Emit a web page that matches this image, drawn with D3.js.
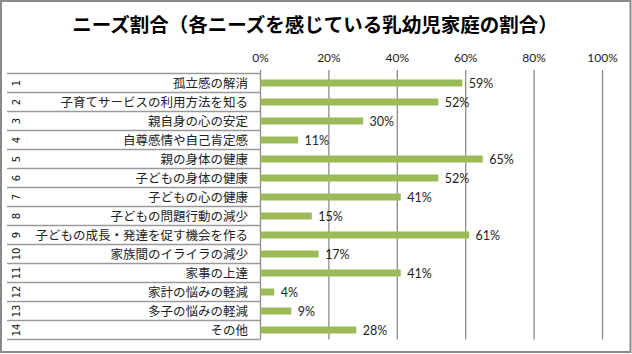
<!DOCTYPE html>
<html>
<head>
<meta charset="utf-8">
<script src="https://cdn.jsdelivr.net/npm/d3@7"></script>
<style>
body { margin: 0; background: #fff; }
</style>
</head>
<body>
<div id="viz"></div>
<script>
var title = 'ニーズ割合（各ニーズを感じている乳幼児家庭の割合）'
var nums = ['1','2','3','4','5','6','7','8','9','10','11','12','13','14']
var needs = ['孤立感の解消', '子育てサービスの利用方法を知る', '親自身の心の安定', '自尊感情や自己肯定感',
  '親の身体の健康', '子どもの身体の健康', '子どもの心の健康', '子どもの問題行動の減少',
  '子どもの成長・発達を促す機会を作る', '家族間のイライラの減少', '家事の上達', '家計の悩みの軽減',
  '多子の悩みの軽減', 'その他']
var shares = [0.59, 0.52, 0.30, 0.11, 0.65, 0.52, 0.41, 0.15, 0.61, 0.17, 0.41, 0.04, 0.09, 0.28]
var tickVals = [0, 0.2, 0.4, 0.6, 0.8, 1]

var w = 632, h = 354
var yTop = 73.5, yBot = 339.5

var svg = d3.select('#viz').append('svg')
  .attr('width', w)
  .attr('height', h)

// frame
svg.append('rect')
  .attr('x', 1).attr('y', 1)
  .attr('width', w - 2.5).attr('height', h - 3)
  .attr('fill', '#fff')
  .attr('stroke', '#8a8a8a')
  .attr('stroke-width', 2)

svg.append('text')
  .attr('x', 315).attr('y', 32)
  .attr('text-anchor', 'middle')
  .style('font-family', '"Noto Sans CJK JP"')
  .style('font-weight', 'bold')
  .style('font-size', '19.5px')
  .attr('fill', '#000')
  .text(title)

var x = d3.scaleLinear().domain([0, 1]).range([260, 602])
var y = d3.scaleBand().domain(d3.range(needs.length)).range([yTop, yBot])

// axis + grid
var xAxis = d3.axisTop(x)
  .tickValues(tickVals)
  .tickFormat(d3.format('.0%'))
  .tickSizeInner(-(yBot - 70))
  .tickSizeOuter(0)
  .tickPadding(8)

var ax = svg.append('g')
  .attr('transform', 'translate(0,70)')
  .call(xAxis)
ax.select('.domain').remove()
ax.selectAll('line').attr('stroke', '#8c8c8c').attr('stroke-width', 1.3)
ax.selectAll('text')
  .style('font-family', 'Lato')
  .style('font-size', '12px')
  .attr('fill', '#222')

// left table lines
svg.append('g').selectAll('line')
  .data(d3.range(needs.length + 1))
  .enter()
  .append('line')
  .attr('x1', 7).attr('x2', 260)
  .attr('y1', d => yTop + d * y.step())
  .attr('y2', d => yTop + d * y.step())
  .attr('stroke', '#9a9a9a')
  .attr('stroke-width', 1.3)

// row numbers (rotated)
svg.append('g').selectAll('text')
  .data(nums)
  .enter()
  .append('text')
  .attr('transform', (d, i) => 'translate(16,' + (y(i) + y.bandwidth() / 2) + ') rotate(-90)')
  .attr('text-anchor', 'middle')
  .attr('dy', '0.35em')
  .style('font-family', '"DejaVu Sans"')
  .style('font-size', '10px')
  .attr('fill', '#111')
  .text(d => d)

// category labels
svg.append('g').selectAll('text')
  .data(needs)
  .enter()
  .append('text')
  .attr('x', 248)
  .attr('y', (d, i) => y(i) + y.bandwidth() / 2)
  .attr('dy', '0.36em')
  .attr('text-anchor', 'end')
  .style('font-family', '"Noto Sans CJK JP"')
  .style('font-size', '12.5px')
  .attr('fill', '#222')
  .text(d => d)

// bars
svg.append('g').selectAll('rect')
  .data(shares)
  .enter()
  .append('rect')
  .attr('x', x(0) + 0.5)
  .attr('y', (d, i) => y(i) + y.bandwidth() / 2 - 3.5)
  .attr('width', d => x(d) - x(0))
  .attr('height', 7)
  .attr('fill', '#9bbb59')

// value labels
svg.append('g').selectAll('text')
  .data(shares)
  .enter()
  .append('text')
  .attr('x', d => x(d) + 7)
  .attr('y', (d, i) => y(i) + y.bandwidth() / 2 + 1)
  .attr('dy', '0.35em')
  .style('font-family', 'Lato')
  .style('font-size', '12.5px')
  .attr('fill', '#222')
  .text(d => Math.round(d * 100) + '%')
</script>
</body>
</html>
